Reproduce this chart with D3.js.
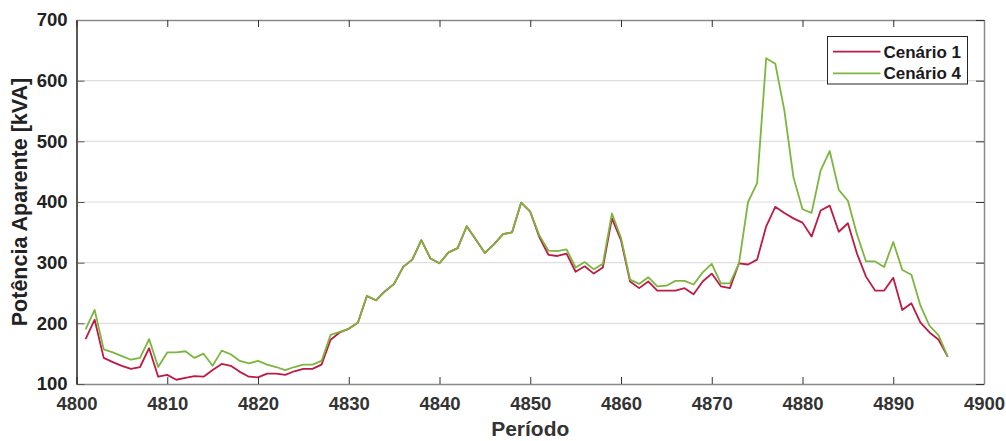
<!DOCTYPE html>
<html>
<head>
<meta charset="utf-8">
<script src="https://cdn.jsdelivr.net/npm/d3@7/dist/d3.min.js"></script>
<style>
  html, body { margin: 0; padding: 0; background: #ffffff; }
  svg { display: block; }
  text { font-family: "Liberation Sans", Arial, sans-serif; font-weight: bold; }
</style>
</head>
<body>
<svg id="chart" width="1006" height="441"></svg>
<script>
// Período (hora) de cada amostra
const periods = [
  4801, 4802, 4803, 4804, 4805, 4806, 4807, 4808, 4809, 4810,
  4811, 4812, 4813, 4814, 4815, 4816, 4817, 4818, 4819, 4820,
  4821, 4822, 4823, 4824, 4825, 4826, 4827, 4828, 4829, 4830,
  4831, 4832, 4833, 4834, 4835, 4836, 4837, 4838, 4839, 4840,
  4841, 4842, 4843, 4844, 4845, 4846, 4847, 4848, 4849, 4850,
  4851, 4852, 4853, 4854, 4855, 4856, 4857, 4858, 4859, 4860,
  4861, 4862, 4863, 4864, 4865, 4866, 4867, 4868, 4869, 4870,
  4871, 4872, 4873, 4874, 4875, 4876, 4877, 4878, 4879, 4880,
  4881, 4882, 4883, 4884, 4885, 4886, 4887, 4888, 4889, 4890,
  4891, 4892, 4893, 4894, 4895, 4896
];

// Potência aparente [kVA] — Cenário 1
const cenario1 = [
  174, 206, 143, 136, 130, 125, 128, 159, 112, 115,
  107, 110, 113, 112, 123, 133, 130, 120, 112, 111,
  117, 117, 115, 121, 125, 125, 132, 173, 185, 191,
  201, 245, 238, 253, 265, 293, 305, 337, 307, 299,
  317, 324, 360, 338, 316, 330, 347, 350, 399, 384,
  342, 313, 311, 315, 285, 294, 282, 292, 373, 337,
  269, 258, 269, 254, 254, 254, 258, 248, 269, 282,
  261, 258, 299, 297, 305, 360, 392, 382, 373, 366,
  343, 386, 394, 351, 365, 315, 277, 254, 254, 275,
  222, 233, 201, 185, 173, 145
];

// Potência aparente [kVA] — Cenário 4
const cenario4 = [
  190, 222, 157, 152, 146, 140, 143, 174, 128, 152,
  152, 154, 143, 150, 130, 155, 149, 138, 134, 138,
  132, 128, 123, 128, 132, 132, 138, 181, 186, 191,
  201, 245, 238, 253, 265, 293, 305, 337, 307, 299,
  317, 324, 360, 338, 316, 330, 347, 350, 399, 384,
  345, 320, 319, 322, 292, 301, 289, 298, 381, 341,
  272, 265, 276, 261, 262, 270, 270, 264, 284, 298,
  266, 266, 299, 400, 431, 637, 628, 551, 441, 388,
  382, 452, 484, 420, 402, 347, 302, 302, 293, 334,
  288, 280, 229, 196, 180, 145
];

const xTicks = [4800, 4810, 4820, 4830, 4840, 4850, 4860, 4870, 4880, 4890, 4900];
const yTicks = [100, 200, 300, 400, 500, 600, 700];
const seriesNames = ["Cenário 1", "Cenário 4"];
const seriesColors = ["#bd1a44", "#7cb63f"];

const svg = d3.select("#chart");
const plot = { left: 76.5, right: 984, top: 20, bottom: 384 };

const x = d3.scaleLinear().domain([4800, 4900]).range([plot.left, plot.right]);
const y = d3.scaleLinear().domain([100, 700]).range([plot.bottom, plot.top]);

// grade horizontal
svg.append("g")
  .selectAll("line")
  .data(yTicks.filter(v => v > 100 && v < 700))
  .join("line")
  .attr("x1", plot.left).attr("x2", plot.right)
  .attr("y1", d => y(d)).attr("y2", d => y(d))
  .attr("stroke", "#dedede")
  .attr("stroke-width", 1.2);

// séries
const series = [cenario1, cenario4];
const line = d3.line()
  .x((d, i) => x(periods[i]))
  .y(d => y(d));

series.forEach((vals, s) => {
  svg.append("path")
    .datum(vals)
    .attr("fill", "none")
    .attr("stroke", seriesColors[s])
    .attr("stroke-width", 1.8)
    .attr("stroke-linejoin", "round")
    .attr("d", line);
});

// eixos com marcas voltadas para dentro
const tickFont = "18.5px";
const bottomAxis = d3.axisBottom(x).tickValues(xTicks).tickFormat(d3.format("d"))
  .tickSizeInner(-7).tickSizeOuter(0).tickPadding(13);
const gx = svg.append("g").attr("transform", `translate(0,${plot.bottom})`).call(bottomAxis);
gx.select(".domain").attr("stroke", "#8a8a8a").attr("stroke-width", 1.5);
gx.selectAll(".tick line").attr("stroke", "#333");
gx.selectAll("text").attr("fill", "#333").style("font-size", tickFont);

const leftAxis = d3.axisLeft(y).tickValues(yTicks).tickFormat(d3.format("d"))
  .tickSizeInner(-8).tickSizeOuter(0).tickPadding(9);
const gy = svg.append("g").attr("transform", `translate(${plot.left},0)`).call(leftAxis);
gy.select(".domain").attr("stroke", "#222").attr("stroke-width", 1.5);
gy.selectAll(".tick line").attr("stroke", "#555");
gy.selectAll("text").attr("fill", "#222").style("font-size", tickFont);

const topAxis = d3.axisTop(x).tickValues(xTicks).tickFormat("")
  .tickSizeInner(-7).tickSizeOuter(0);
const gt = svg.append("g").attr("transform", `translate(0,${plot.top})`).call(topAxis);
gt.select(".domain").attr("stroke", "#8a8a8a").attr("stroke-width", 1.5);
gt.selectAll(".tick line").attr("stroke", "#333");

const rightAxis = d3.axisRight(y).tickValues(yTicks).tickFormat("")
  .tickSizeInner(-8).tickSizeOuter(0);
const gr = svg.append("g").attr("transform", `translate(${plot.right},0)`).call(rightAxis);
gr.select(".domain").attr("stroke", "#8a8a8a").attr("stroke-width", 1.5);
gr.selectAll(".tick line").attr("stroke", "#333");

// títulos dos eixos
svg.append("text")
  .attr("x", (plot.left + plot.right) / 2)
  .attr("y", 436)
  .attr("text-anchor", "middle")
  .attr("fill", "#333")
  .style("font-size", "21px")
  .text("Período");

svg.append("text")
  .attr("transform", `translate(27,${(plot.top + plot.bottom) / 2}) rotate(-90)`)
  .attr("text-anchor", "middle")
  .attr("fill", "#222")
  .style("font-size", "21.5px")
  .text("Potência Aparente [kVA]");

// legenda
const legend = svg.append("g");
legend.append("rect")
  .attr("x", 827.5).attr("y", 36.5)
  .attr("width", 140).attr("height", 47.5)
  .attr("fill", "#fff").attr("stroke", "#262626").attr("stroke-width", 1);

seriesNames.forEach((name, i) => {
  const cy = 51.7 + i * 21.6;
  legend.append("line")
    .attr("x1", 833).attr("x2", 880.5)
    .attr("y1", cy).attr("y2", cy)
    .attr("stroke", seriesColors[i]).attr("stroke-width", 1.8);
  legend.append("text")
    .attr("x", 883.5).attr("y", cy)
    .attr("dy", "0.36em")
    .attr("fill", "#1a1a1a")
    .style("font-size", "17px")
    .text(name);
});
</script>
</body>
</html>
